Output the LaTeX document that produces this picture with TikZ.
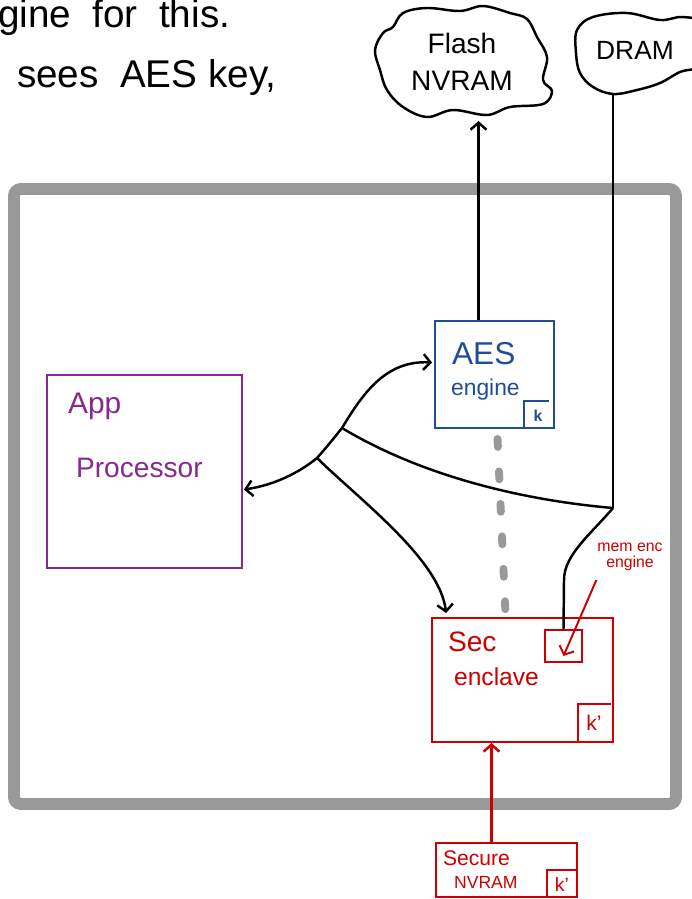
\documentclass[tikz,border=0pt]{standalone}
\usepackage{fontspec}
\setmainfont{Liberation Sans}
\usetikzlibrary{calc,positioning,arrows.meta}
\definecolor{framegray}{HTML}{999999}
\definecolor{secred}{HTML}{CC0000}
\definecolor{aesblue}{HTML}{1F4E96}
\definecolor{apppurple}{HTML}{862A8E}

\begin{document}
\begin{tikzpicture}[x=0.02cm,y=-0.02cm,
  >={Straight Barb[length=4pt,width=9pt]},
  wire/.style={line width=1.4pt,black},
  blob/.style={line width=1.4pt,black,line join=round},
  hand/.style={font=\fontsize{#1}{#1}\selectfont,anchor=west,inner sep=1pt}]
\useasboundingbox (0,0) rectangle (691,899);

% notes at the top
\node[hand=22] (note1) at (-4,18) {gine\ \ for\ \ this.};
\node[hand=22] (note2) at (15,78) {sees\ \ AES key,};

% chip outline
\draw[framegray,line width=6.8pt,rounded corners=4pt] (14,189) rectangle (676,804);

% memories outside
\draw[blob] plot[smooth cycle,tension=0.6] coordinates {(393,27) (403,13) (427,8) (460,11) (483,6) (510,13) (527,19)
  (537,37) (547,57) (543,80) (552,91) (543,104) (510,107) (487,115) (453,110) (427,117) (403,107)
  (387,90) (380,70) (375,50) (383,33)};
\draw[blob] plot[smooth cycle,tension=0.6] coordinates {(577,30) (593,17) (627,13) (660,20) (683,17) (705,25)
  (705,63) (680,72) (660,83) (637,90) (613,94) (593,87) (580,73) (576,53)};
\node[align=center,font=\fontsize{16}{21}\selectfont] (flash) at (462,62) {Flash\\NVRAM};
\node[font=\fontsize{15}{15}\selectfont] (dram) at (635,50) {DRAM};
\coordinate (flashbot) at (478,121);
\coordinate (drambot) at (613,94);

% blocks
\node[draw=apppurple,line width=1.1pt,minimum width=3.9cm,minimum height=3.86cm] (app) at (144.5,471.5) {};
\node[hand=17,text=apppurple] (applbl) at (66,406) {App};
\node[hand=16,text=apppurple] (proclbl) at (74,468) {Processor};

\node[draw=aesblue,line width=1.1pt,minimum width=2.38cm,minimum height=2.14cm] (aes) at (494.5,374.5) {};
\node[hand=18,text=aesblue] (aeslbl) at (450,354) {AES};
\node[hand=13,text=aesblue] (englbl) at (449,390) {engine};
\draw[aesblue,line width=1.1pt] ($(aes.south east)+(-31,0)$) |- ($(aes.south east)+(-6,-28)$);
\node[text=aesblue,font=\fontsize{9}{9}\selectfont\bfseries,inner sep=0pt] (aeskey) at ($(aes.south east)+(-17,-13)$) {k};

\node[draw=secred,line width=1.1pt,minimum width=3.62cm,minimum height=2.48cm] (sec) at (522.5,680) {};
\node[hand=16,text=secred] (seclbl) at (446,642) {Sec};
\node[hand=14,text=secred] (enclbl) at (452,677) {enclave};
\node[draw=secred,line width=1.1pt,minimum width=0.74cm,minimum height=0.64cm] (mee) at (563.5,646) {};
\draw[secred,line width=1.1pt] ($(sec.south east)+(-36,0)$) |- ($(sec.south east)+(-3,-39)$);
\node[text=secred,font=\fontsize{12}{12}\selectfont,inner sep=0pt] (seckey) at ($(sec.south east)+(-20,-20)$) {k'};

\node[draw=secred,line width=1.1pt,minimum width=2.82cm,minimum height=1.08cm] (snv) at (506.5,870) {};
\node[hand=12,text=secred] (snvlbl1) at (441,858) {Secure};
\node[hand=10,text=secred] (snvlbl2) at (452,882) {NVRAM};
\draw[secred,line width=1.1pt] ($(snv.south east)+(-31,-2)$) |- ($(snv.south east)+(-2,-28)$);
\node[text=secred,font=\fontsize{11}{11}\selectfont,inner sep=0pt] (snvkey) at ($(snv.south east)+(-16,-13)$) {k'};

\node[text=secred,font=\fontsize{9}{9}\selectfont,align=center,inner sep=1pt] (mnote) at (630,557) {mem enc\\engine};

% buses
\coordinate (j1) at (317,458);
\coordinate (j2) at (342,428);
\coordinate (j3) at (613,508);
\coordinate (fa) at ($(aes.north)+(-16,0)$);
\coordinate (sa) at ($(snv.north)+(-15,0)$);

\draw[wire,->] (fa) -- (fa |- flashbot);
\draw[wire] (j3) -- (drambot);
\draw[wire,<->] ($(app.east)+(1,18)$) .. controls (275,485) and (300,472) .. (j1)
  .. controls (326,448) and (334,438) .. (j2)
  .. controls (362,395) and (385,360) .. ($(aes.west)+(-2,-12)$);
\draw[wire] (j2) .. controls (420,475) and (520,500) .. (j3);
\draw[wire,->] (j1) .. controls (360,500) and (440,560) .. ($(sec.north west)+(15,-4)$);
\draw[wire] (j3) .. controls (590,535) and (564,555) .. (564,580) -- (mee.north);

% key path and annotation
\draw[framegray,line width=4.5pt,line cap=round,dash pattern=on 4.5pt off 14pt] ($(aes.south)+(3,10)$) -- ($(sec.north)+(-17,-4)$);
\draw[secred,line width=1.1pt,->] ($(mnote.south west)+(1,7)$) -- ($(mee.south)+(0,-7)$);
\draw[secred,line width=1.4pt,->] (sa) -- (sa |- sec.south);
\end{tikzpicture}
\end{document}
